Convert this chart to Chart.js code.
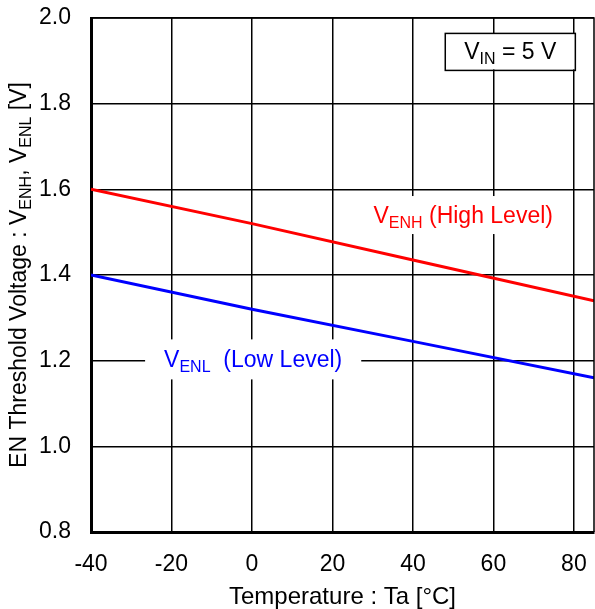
<!DOCTYPE html>
<html lang="en">
<head>
    <meta charset="UTF-8">
    <title>EN Threshold Voltage vs Temperature</title>
    <style>
        html, body { margin: 0; padding: 0; background: #fff; }
        #wrap { width: 595px; height: 609px; }
    </style>
    <script src="https://cdn.jsdelivr.net/npm/chart.js"></script>
</head>
<body>
    <div id="wrap"><canvas id="graph" width="595" height="609"></canvas></div>

    <script>
        // values
        const temps = [-40, 0, 40, 85];
        const vEnh = [1.60, 1.52, 1.435, 1.34];
        const vEnl = [1.40, 1.32, 1.245, 1.16];
        const xTicks = [-40, -20, 0, 20, 40, 60, 80];
        const yTicks = [0.8, 1.0, 1.2, 1.4, 1.6, 1.8, 2.0];

        const FONT = '"Liberation Sans", Arial, sans-serif';
        const SIZE = 23;

        // draw text with subscripts; parts = [[text, isSub], ...]
        function richText(ctx, parts, cx, cy, color, bg) {
            const big = SIZE + 'px ' + FONT;
            const small = Math.round(SIZE * 0.7) + 'px ' + FONT;
            let w = 0;
            parts.forEach(p => {
                ctx.font = p[1] ? small : big;
                w += ctx.measureText(p[0]).width;
            });
            if (bg) {
                ctx.fillStyle = '#fff';
                ctx.fillRect(cx - w / 2 - bg[0], cy - bg[1], w + 2 * bg[0], 2 * bg[1]);
            }
            let x = cx - w / 2;
            ctx.fillStyle = color;
            ctx.textAlign = 'left';
            ctx.textBaseline = 'alphabetic';
            parts.forEach(p => {
                ctx.font = p[1] ? small : big;
                ctx.fillText(p[0], x, cy + (p[1] ? 13 : 8));
                x += ctx.measureText(p[0]).width;
            });
            return w;
        }

        const notes = {
            id: 'notes',
            afterDraw(chart) {
                const ctx = chart.ctx;
                const xs = chart.scales.x, ys = chart.scales.y;
                const a = chart.chartArea;
                ctx.save();

                // plot frame (top/right thin, left/bottom thick)
                ctx.strokeStyle = '#000';
                ctx.lineWidth = 1.5;
                ctx.beginPath();
                ctx.moveTo(a.left, a.top);
                ctx.lineTo(a.right, a.top);
                ctx.lineTo(a.right, a.bottom);
                ctx.stroke();

                // curve labels
                richText(ctx, [['V', false], ['ENH', true], [' (High Level)', false]],
                    xs.getPixelForValue(52.5), ys.getPixelForValue(1.540), '#ff0000', [10, 19]);
                richText(ctx, [['V', false], ['ENL', true], ['  (Low Level)', false]],
                    xs.getPixelForValue(0.3), ys.getPixelForValue(1.203), '#0000ff', [19, 20]);

                // condition box
                const bx = xs.getPixelForValue(64.2), by = ys.getPixelForValue(1.922);
                const w = richText(ctx, [['V', false], ['IN', true], [' = 5 V', false]],
                    bx, by, '#000', [19, 18]);
                ctx.strokeStyle = '#000';
                ctx.lineWidth = 1.5;
                ctx.strokeRect(bx - w / 2 - 19, by - 18, w + 38, 37);

                // rotated y-axis title
                ctx.translate(20, (a.top + a.bottom) / 2);
                ctx.rotate(-Math.PI / 2);
                richText(ctx, [['EN Threshold Voltage : V', false], ['ENH', true], [', V', false], ['ENL', true], [' [V]', false]],
                    0, -2, '#000', null);
                ctx.restore();
            }
        };

        const ctx = document.getElementById('graph').getContext('2d');
        new Chart(ctx, {
            type: 'scatter',
            data: {
                datasets: [{
                    label: 'VENH',
                    data: temps.map((t, i) => ({ x: t, y: vEnh[i] })),
                    showLine: true,
                    borderColor: '#ff0000',
                    borderWidth: 3,
                    pointRadius: 0,
                    fill: false
                }, {
                    label: 'VENL',
                    data: temps.map((t, i) => ({ x: t, y: vEnl[i] })),
                    showLine: true,
                    borderColor: '#0000ff',
                    borderWidth: 3,
                    pointRadius: 0,
                    fill: false
                }]
            },
            options: {
                responsive: false,
                animation: false,
                layout: { padding: { top: 18, right: 1, left: 0, bottom: 0 } },
                plugins: {
                    legend: { display: false },
                    tooltip: { enabled: false }
                },
                scales: {
                    x: {
                        type: 'linear',
                        min: -40,
                        max: 85,
                        afterBuildTicks: s => { s.ticks = xTicks.map(v => ({ value: v })); },
                        afterFit: s => { s.height = 77; s.paddingLeft = 0; s.paddingRight = 0; },
                        grid: { color: '#000', lineWidth: 1.5, drawTicks: false },
                        border: { color: '#000', width: 3 },
                        ticks: {
                            color: '#000',
                            padding: 19,
                            font: { family: FONT, size: SIZE }
                        },
                        title: {
                            display: true,
                            text: 'Temperature : Ta [°C]',
                            color: '#000',
                            padding: { top: 0, bottom: 0 },
                            font: { family: FONT, size: 24, lineHeight: 1.0 }
                        }
                    },
                    y: {
                        min: 0.8,
                        max: 2.0,
                        afterBuildTicks: s => { s.ticks = yTicks.map(v => ({ value: v })); },
                        afterFit: s => { s.width = 91; s.paddingTop = 0; s.paddingBottom = 0; },
                        grid: { color: '#000', lineWidth: 1.5, drawTicks: false },
                        border: { color: '#000', width: 3 },
                        ticks: {
                            color: '#000',
                            padding: 20,
                            font: { family: FONT, size: SIZE },
                            callback: v => v.toFixed(1)
                        }
                    }
                }
            },
            plugins: [notes]
        });
    </script>
</body>
</html>
